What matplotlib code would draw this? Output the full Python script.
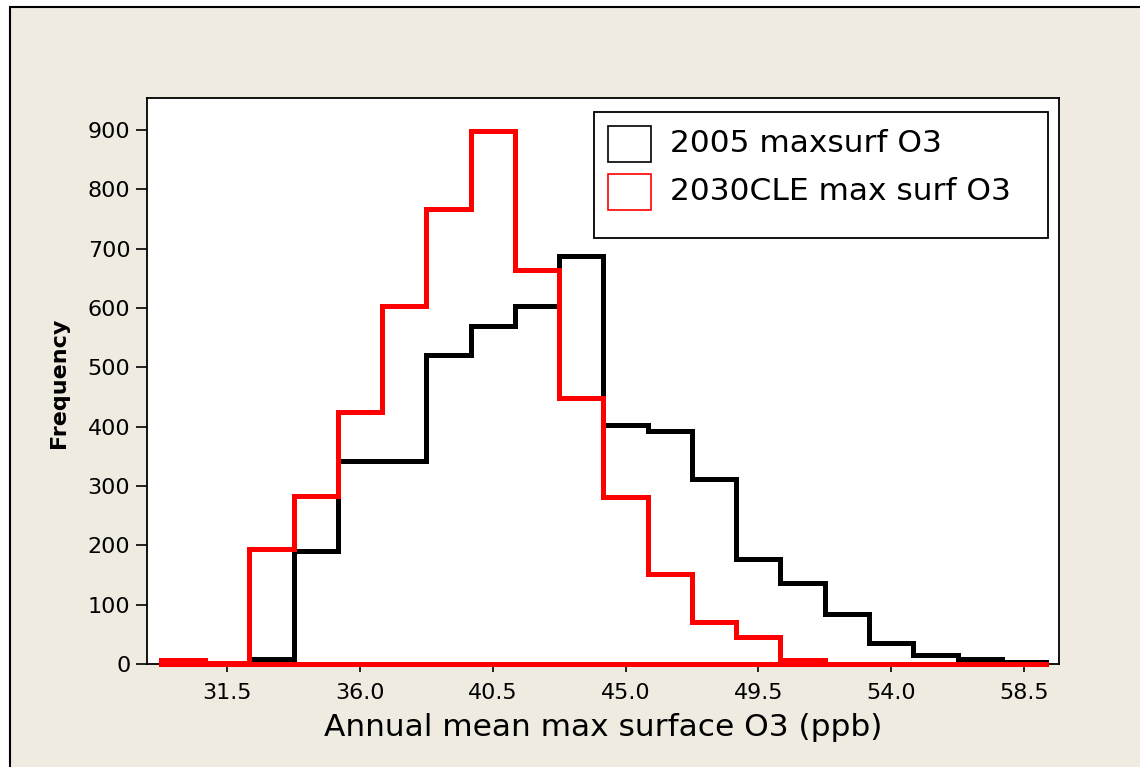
import numpy as np
import matplotlib
matplotlib.use("Agg")
import matplotlib.pyplot as plt
from matplotlib.patches import Rectangle

plt.rcParams.update({"font.family": "DejaVu Sans"})

# ---------------------------------------------------------------- datos
BIN_MIDS = [30.0, 31.5, 33.0, 34.5, 36.0, 37.5, 39.0, 40.5, 42.0, 43.5,
            45.0, 46.5, 48.0, 49.5, 51.0, 52.5, 54.0, 55.5, 57.0, 58.5]
BIN_WIDTH = 1.5
COUNT_2005 = [0, 0, 8, 190, 342, 342, 520, 570, 604, 687,
              403, 393, 312, 177, 136, 85, 36, 15, 9, 3]
COUNT_2030 = [6, 2, 194, 284, 425, 603, 767, 899, 664, 449,
              281, 151, 70, 46, 7, 0, 0, 0, 0, 0]
SERIES = ["2005 maxsurf O3", "2030CLE max surf O3"]
COLORS = ["black", "#ff0000"]
XTICKS = [31.5, 36.0, 40.5, 45.0, 49.5, 54.0, 58.5]
YTICKS = [0, 100, 200, 300, 400, 500, 600, 700, 800, 900]

BG = "#efebe1"
W, H = 1140, 767

def fx(x):   # px -> fraccion de figura
    return x / W

def fy(y):
    return 1 - y / H

fig = plt.figure(figsize=(W / 100, H / 100), dpi=100)
fig.patch.set_facecolor("white")
fig.add_artist(Rectangle((fx(10), -0.01), 1.0, fy(7) + 0.01, transform=fig.transFigure,
                         facecolor=BG, edgecolor="black", lw=1.5, zorder=0))

ax = fig.add_axes([fx(147), fy(664), fx(1059) - fx(147), fy(98) - fy(664)])
ax.set_facecolor("white")

edges = np.r_[np.array(BIN_MIDS) - BIN_WIDTH / 2, BIN_MIDS[-1] + BIN_WIDTH / 2]
for counts, col in zip([COUNT_2005, COUNT_2030], COLORS):
    ax.stairs(counts, edges, baseline=0, color=col, lw=3.6, clip_on=False, zorder=3)
    ax.plot([edges[0], edges[-1]], [0, 0], color=col, lw=3.6, solid_capstyle="projecting",
            clip_on=False, zorder=3)

ax.set_xlim(28.78, 59.69)
ax.set_ylim(0, 954)
ax.set_xticks(XTICKS)
ax.set_xticklabels([f"{v:.1f}" for v in XTICKS])
ax.set_yticks(YTICKS)
ax.tick_params(direction="out", length=6, width=1.2, labelsize=16, color="black")
ax.tick_params(axis="x", pad=8)
ax.tick_params(axis="y", length=8, pad=4)
for s in ax.spines.values():
    s.set_linewidth(1.3)
    s.set_color("black")

ax.set_xlabel("Annual mean max surface O3 (ppb)", fontsize=22.5, labelpad=7)
fig.text(fx(59), fy(383), "Frequency", rotation=90, ha="center", va="center",
         fontsize=16, fontweight="bold")

# ---------------------------------------------------------------- leyenda (estilo Minitab)
fig.add_artist(Rectangle((fx(594), fy(238)), fx(1048) - fx(594), fy(112) - fy(238),
                         transform=fig.transFigure, facecolor="white", edgecolor="black",
                         lw=1.3, zorder=5))
for i, (lab, col) in enumerate(zip(SERIES, COLORS)):
    top = 126 + 48 * i
    fig.add_artist(Rectangle((fx(608), fy(top + 36)), fx(651) - fx(608), fy(top) - fy(top + 36),
                             transform=fig.transFigure, facecolor="white", edgecolor=col,
                             lw=1.2, zorder=6))
    fig.text(fx(670), fy(top + 18), lab, ha="left", va="center", fontsize=22.5, zorder=6)

fig.savefig("out.png", dpi=100, facecolor=fig.get_facecolor())
